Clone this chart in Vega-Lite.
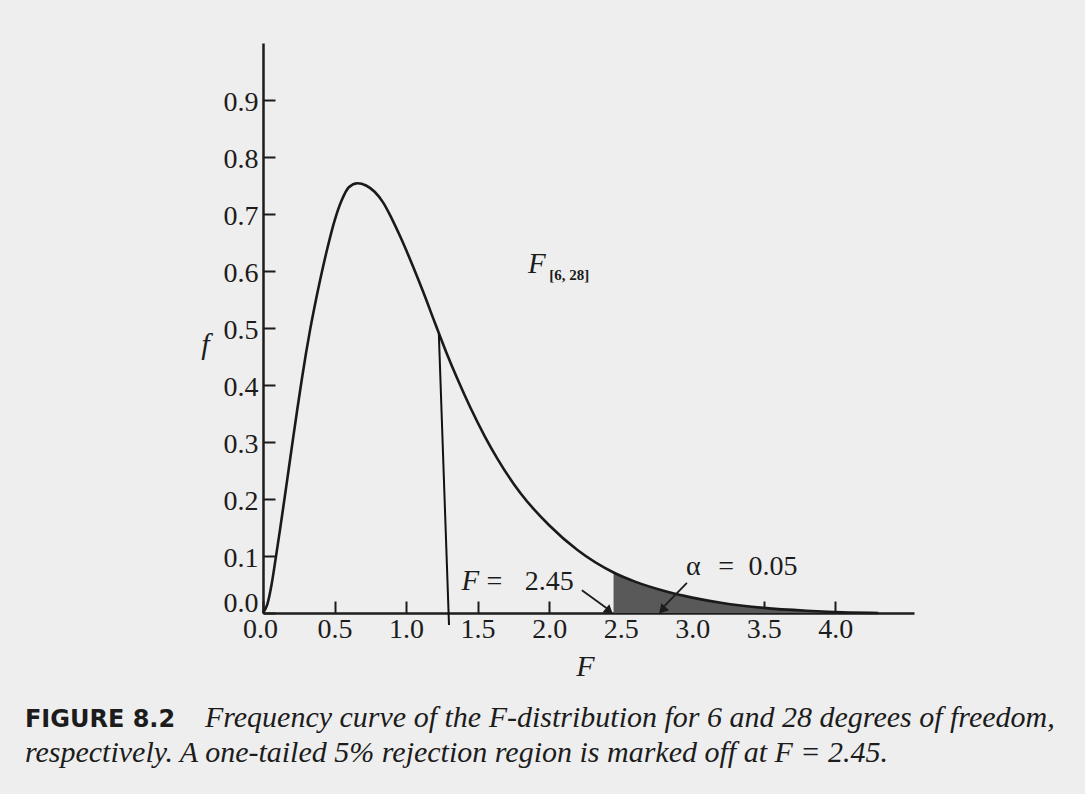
{
  "$schema": "https://vega.github.io/schema/vega-lite/v6.json",
  "width": 651,
  "height": 570,
  "autosize": {"type": "none"},
  "padding": {"left": 263, "top": 43, "right": 171, "bottom": 181},
  "background": "#eeeeee",
  "config": {
    "view": {"stroke": null},
    "axis": {
      "grid": false,
      "domainColor": "#1c1c1c",
      "domainWidth": 2.5,
      "tickColor": "#1c1c1c",
      "tickWidth": 2,
      "tickSize": -12,
      "labelFont": "Liberation Serif, Times New Roman, serif",
      "labelFontSize": 28,
      "labelColor": "#1c1c1c",
      "labelFlush": false,
      "labelOverlap": false,
      "titleFont": "Liberation Serif, Times New Roman, serif",
      "titleFontStyle": "italic",
      "titleFontWeight": "normal",
      "titleFontSize": 30,
      "titleColor": "#1c1c1c"
    }
  },
  "datasets": {
    "curve": [
      {"x": 0, "y": 0},
      {"x": 0.03, "y": 0.015},
      {"x": 0.06, "y": 0.05},
      {"x": 0.09, "y": 0.098},
      {"x": 0.12, "y": 0.148},
      {"x": 0.15, "y": 0.2},
      {"x": 0.18, "y": 0.253},
      {"x": 0.21, "y": 0.306},
      {"x": 0.24, "y": 0.358},
      {"x": 0.27, "y": 0.408},
      {"x": 0.3, "y": 0.455},
      {"x": 0.33, "y": 0.498},
      {"x": 0.36, "y": 0.537},
      {"x": 0.4, "y": 0.585},
      {"x": 0.45, "y": 0.64},
      {"x": 0.5, "y": 0.688},
      {"x": 0.55, "y": 0.724},
      {"x": 0.6, "y": 0.747},
      {"x": 0.66, "y": 0.754},
      {"x": 0.72, "y": 0.75},
      {"x": 0.78, "y": 0.739},
      {"x": 0.84, "y": 0.72},
      {"x": 0.9, "y": 0.692},
      {"x": 0.96, "y": 0.66},
      {"x": 1.05, "y": 0.607},
      {"x": 1.12, "y": 0.563},
      {"x": 1.2, "y": 0.51},
      {"x": 1.28, "y": 0.458},
      {"x": 1.36, "y": 0.41},
      {"x": 1.45, "y": 0.36},
      {"x": 1.55, "y": 0.31},
      {"x": 1.64, "y": 0.27},
      {"x": 1.8, "y": 0.21},
      {"x": 2.0, "y": 0.154},
      {"x": 2.2, "y": 0.11},
      {"x": 2.45, "y": 0.071},
      {"x": 2.6, "y": 0.055},
      {"x": 2.8, "y": 0.039},
      {"x": 3.0, "y": 0.027},
      {"x": 3.2, "y": 0.018},
      {"x": 3.5, "y": 0.009},
      {"x": 3.8, "y": 0.004},
      {"x": 4.1, "y": 0.001},
      {"x": 4.3, "y": 0.0}
    ]
  },
  "encoding": {
    "x": {
      "field": "x",
      "type": "quantitative",
      "scale": {"domain": [0, 4.55], "nice": false, "zero": false},
      "axis": {
        "title": "F",
        "values": [0, 0.5, 1, 1.5, 2, 2.5, 3, 3.5, 4],
        "format": ".1f",
        "labelPadding": 14,
        "labelOffset": {"condition": {"test": "datum.value === 0", "value": -3}, "value": 0},
        "titleX": 322,
        "titleY": 62,
        "titleAlign": "center",
        "titleBaseline": "alphabetic"
      }
    },
    "y": {
      "field": "y",
      "type": "quantitative",
      "scale": {"domain": [0, 1], "nice": false, "zero": false},
      "axis": {
        "title": "f",
        "values": [0, 0.1, 0.2, 0.3, 0.4, 0.5, 0.6, 0.7, 0.8, 0.9],
        "format": ".1f",
        "labelPadding": 17,
        "labelOffset": {"condition": {"test": "datum.value === 0", "value": -10}, "value": 2},
        "titleAngle": 0,
        "titleX": -58,
        "titleY": 310,
        "titleAlign": "center",
        "titleBaseline": "alphabetic"
      }
    }
  },
  "layer": [
    {
      "data": {"name": "curve"},
      "transform": [{"filter": "datum.x >= 2.45"}],
      "mark": {"type": "area", "color": "#595959", "interpolate": "monotone"}
    },
    {
      "data": {"name": "curve"},
      "mark": {"type": "line", "color": "#1a1a1a", "strokeWidth": 2.6, "interpolate": "monotone"}
    },
    {
      "data": {"values": [{"x": 1.229, "y": 0.49}, {"x": 1.3, "y": -0.021}]},
      "mark": {"type": "line", "color": "#111111", "strokeWidth": 2}
    },
    {
      "data": {"values": [
        {"x": 2.229, "y": 0.04, "x2": 2.405, "y2": 0.008},
        {"x": 2.963, "y": 0.053, "x2": 2.805, "y2": 0.012}
      ]},
      "mark": {"type": "rule", "color": "#1c1c1c", "strokeWidth": 1.8},
      "encoding": {"x2": {"field": "x2"}, "y2": {"field": "y2"}}
    },
    {
      "data": {"values": [{"x": 2.413, "y": 0.005}]},
      "mark": {"type": "point", "shape": "triangle", "filled": true, "color": "#1c1c1c", "size": 110, "angle": 130, "opacity": 1}
    },
    {
      "data": {"values": [{"x": 2.797, "y": 0.007}]},
      "mark": {"type": "point", "shape": "triangle", "filled": true, "color": "#1c1c1c", "size": 110, "angle": 222, "opacity": 1}
    },
    {
      "data": {"values": [{"x": 1.853, "y": 0.596, "label": "F"}, {"x": 1.387, "y": 0.04, "label": "F"}]},
      "mark": {"type": "text", "font": "Liberation Serif, Times New Roman, serif", "fontStyle": "italic", "fontSize": 29, "align": "left", "baseline": "alphabetic", "color": "#1c1c1c"},
      "encoding": {"text": {"field": "label"}}
    },
    {
      "data": {"values": [{"x": 2.0, "y": 0.584, "label": "[6, 28]"}]},
      "mark": {"type": "text", "font": "Liberation Serif, Times New Roman, serif", "fontSize": 15, "fontWeight": "bold", "align": "left", "baseline": "alphabetic", "color": "#1c1c1c"},
      "encoding": {"text": {"field": "label"}}
    },
    {
      "data": {"values": [
        {"x": 1.562, "y": 0.04, "label": "="},
        {"x": 1.83, "y": 0.04, "label": "2.45"},
        {"x": 2.956, "y": 0.066, "label": "α"},
        {"x": 3.182, "y": 0.066, "label": "="},
        {"x": 3.393, "y": 0.066, "label": "0.05"}
      ]},
      "mark": {"type": "text", "font": "Liberation Serif, Times New Roman, serif", "fontSize": 28, "align": "left", "baseline": "alphabetic", "color": "#1c1c1c"},
      "encoding": {"text": {"field": "label"}}
    },
    {
      "data": {"values": [{"x": -1.664, "y": -0.2, "label": "FIGURE 8.2"}]},
      "mark": {"type": "text", "font": "DejaVu Sans", "fontWeight": "bold", "fontSize": 24, "align": "left", "baseline": "alphabetic", "color": "#1c1c1c"},
      "encoding": {"text": {"field": "label"}}
    },
    {
      "data": {"values": [
        {"x": -0.406, "y": -0.2, "label": "Frequency curve of the F-distribution for 6 and 28 degrees of freedom,"},
        {"x": -1.664, "y": -0.261, "label": "respectively. A one-tailed 5% rejection region is marked off at F = 2.45."}
      ]},
      "mark": {"type": "text", "font": "Liberation Serif, Times New Roman, serif", "fontStyle": "italic", "fontSize": 30, "align": "left", "baseline": "alphabetic", "color": "#1c1c1c"},
      "encoding": {"text": {"field": "label"}}
    }
  ]
}
